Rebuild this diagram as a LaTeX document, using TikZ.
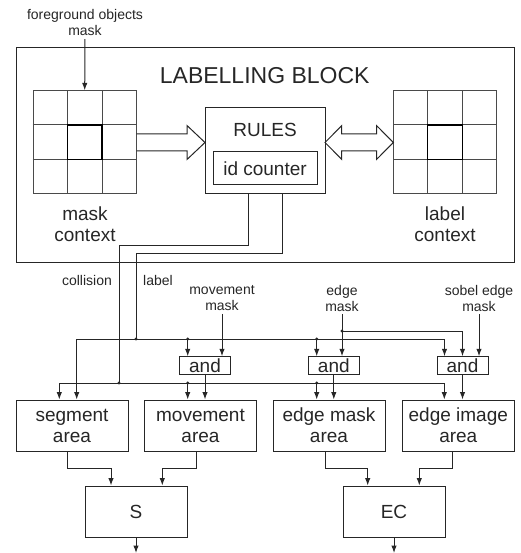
\documentclass[tikz,border=0pt]{standalone}
\usepackage{fontspec}
\setmainfont{Liberation Sans}
\usetikzlibrary{arrows.meta,calc}
\definecolor{ln}{HTML}{262626}
\definecolor{gl}{HTML}{4A4A4A}
\begin{document}
\begin{tikzpicture}[x=1pt,y=-1pt,
  every node/.style={text=ln},
  boxn/.style={draw=ln, line width=1pt, inner sep=0pt, align=center, font=\fontsize{19}{21}\selectfont},
  wire/.style={draw=ln, line width=1pt},
  arr/.style={wire, -{Latex[length=7.5pt,width=5.5pt]}},
  small/.style={font=\fontsize{14}{16}\selectfont, align=center, inner sep=0pt},
  big/.style={font=\fontsize{19}{21}\selectfont, align=center, inner sep=0pt},
  gridbox/.style={draw=gl, line width=1pt, minimum size=103pt, inner sep=0pt},
  gridl/.style={draw=gl, line width=1pt},
  gridc/.style={draw=black, line width=1.5pt, line cap=rect},
]
\useasboundingbox (0,0) rectangle (520,553);

% labelling block
\node[boxn, minimum width=498pt, minimum height=214pt] (block) at (265,155) {};
\node[inner sep=0pt, anchor=base, font=\fontsize{23}{25}\selectfont] (title) at (264.7,83.3) {LABELLING BLOCK};

% context grids
\node[gridbox] (mgrid) at (84.7,142.3) {};
\node[gridbox] (lgrid) at (445,142.3) {};
\foreach \g in {mgrid,lgrid}{
  \foreach \f in {0.3333,0.6667}{
    \draw[gridl] ($(\g.north west)!\f!(\g.north east)$) -- ($(\g.south west)!\f!(\g.south east)$);
    \draw[gridl] ($(\g.north west)!\f!(\g.south west)$) -- ($(\g.north east)!\f!(\g.south east)$);
  }
  \coordinate (\g-a) at ($(\g.north west)!0.3333!(\g.south east)$);
  \coordinate (\g-b) at ($(\g.north west)!0.6667!(\g.south east)$);
  \draw[gridc] (\g-a) -- (\g-a -| \g-b) -- (\g-b) -- (\g-b -| \g-a) -- cycle;
}

\node[small] (fg) at (85,22.2) {foreground objects\\mask};
\draw[arr, shorten <=3.5pt] (fg.south) -- (mgrid.north);

\node[big] (mctx) at (85,224.2) {mask\\context};
\node[big] (lctx) at (445,224.2) {label\\context};

% rules
\node[boxn, minimum width=120pt, minimum height=86pt] (rules) at (265,151) {};
\node[big, anchor=base] (rulestxt) at (265,136.7) {RULES};
\node[boxn, minimum width=104pt, minimum height=33pt] (idc) at (265,168.5) {id counter};

% open arrows
\draw[wire] (136.5,134) -- (187,134) -- (187,125.5) -- (205,142.5) -- (187,159.5) -- (187,151) -- (136.5,151);
\draw[wire] (325,142.5) -- (341.7,125.7) -- (341.7,134) -- (376.7,134) -- (376.7,125.7) -- (393.3,142.5)
  -- (376.7,159.3) -- (376.7,151) -- (341.7,151) -- (341.7,159.3) -- cycle;

% labels of the lower part
\node[small, anchor=base] (coltxt) at (87,285) {collision};
\node[small, anchor=base] (labtxt) at (158,285) {label};
\node[small] (movmask) at (222,298) {movement\\mask};
\node[small] (edgemask) at (342,298) {edge\\mask};
\node[small] (sobel) at (479,298) {sobel edge\\mask};

% and gates
\node[boxn, minimum width=51pt, minimum height=17.5pt] (and1) at (205,365.5) {and};
\node[boxn, minimum width=51pt, minimum height=17.5pt] (and2) at (333.8,365.5) {and};
\node[boxn, minimum width=51pt, minimum height=17.5pt] (and3) at (462.5,365.5) {and};

% area boxes
\node[boxn, minimum width=112pt, minimum height=51pt] (seg) at (72,425.5) {segment\\area};
\node[boxn, minimum width=112pt, minimum height=51pt] (mov) at (200.5,425.5) {movement\\area};
\node[boxn, minimum width=112pt, minimum height=51pt] (edm) at (329,425.5) {edge mask\\area};
\node[boxn, minimum width=112pt, minimum height=51pt] (edi) at (458.3,425.5) {edge image\\area};

\node[boxn, minimum width=102pt, minimum height=51pt] (S) at (136,511.5) {S};
\node[boxn, minimum width=102pt, minimum height=51pt] (EC) at (394,511.5) {EC};

% coordinates
\coordinate (colbend) at (119,245);
\coordinate (labbend) at (136,253);
\coordinate (jc1) at (119,383);
\coordinate (jl1) at (136,339);
\coordinate (jl2) at (187.7,339);
\coordinate (jl3) at (316.7,339);
\coordinate (jc2) at (187.7,383);
\coordinate (jc3) at (316.7,383);
\coordinate (je) at (342,331);
\coordinate (Sout) at (136,553);
\coordinate (ECout) at (394,553);

% outputs of rules
\draw[wire] ([xshift=-17pt]rules.south) |- (colbend) -- (jc1);
\draw[wire] ([xshift=17pt]rules.south) |- (labbend) -- (jl1);

% label bus
\draw[arr] (jl1) -| ([xshift=4.7pt]seg.north);
\draw[arr] (jl1) -| ([xshift=-18pt]and3.north);
\draw[arr] (jl2) -- (jl2 |- and1.north);
\draw[arr] (jl3) -- (jl3 |- and2.north);
% collision bus
\draw[arr] (jc1) -| ([xshift=-12.7pt]seg.north);
\draw[arr] (jc1) -| ([xshift=-14pt]edi.north);
\draw[arr] (jc2) -- (jc2 |- mov.north);
\draw[arr] (jc3) -- (jc3 |- edm.north);
% gate outputs
\draw[arr] (and1.south) -- (and1.south |- mov.north);
\draw[arr] (and2.south) -- (and2.south |- edm.north);
\draw[arr] (and3.south) -- (and3.south |- edi.north);
% mask inputs
\draw[arr, shorten <=3pt] (movmask.south) -- (movmask.south |- and1.north);
\draw[arr, shorten <=3pt] (edgemask.south) -- (edgemask.south |- and2.north);
\draw[arr] (je) -| (and3.north);
\draw[arr, shorten <=3pt] (sobel.south) -- (sobel.south |- and3.north);

\foreach \p in {jl1,jl2,jl3,jc1,jc2,jc3,je} \fill[ln] (\p) circle[radius=1.7pt];

% to S and EC
\draw[arr] ([xshift=-4.3pt]seg.south) -- ++(0,17) -| ([xshift=-25pt]S.north);
\draw[arr] ([xshift=-3.8pt]mov.south) -- ++(0,17) -| ([xshift=26.3pt]S.north);
\draw[arr] ([xshift=-4pt]edm.south) -- ++(0,17) -| ([xshift=-26.3pt]EC.north);
\draw[arr] ([xshift=-5.6pt]edi.south) -- ++(0,17) -| ([xshift=25.3pt]EC.north);
\draw[arr] (S.south) -- (Sout);
\draw[arr] (EC.south) -- (ECout);
\end{tikzpicture}
\end{document}
